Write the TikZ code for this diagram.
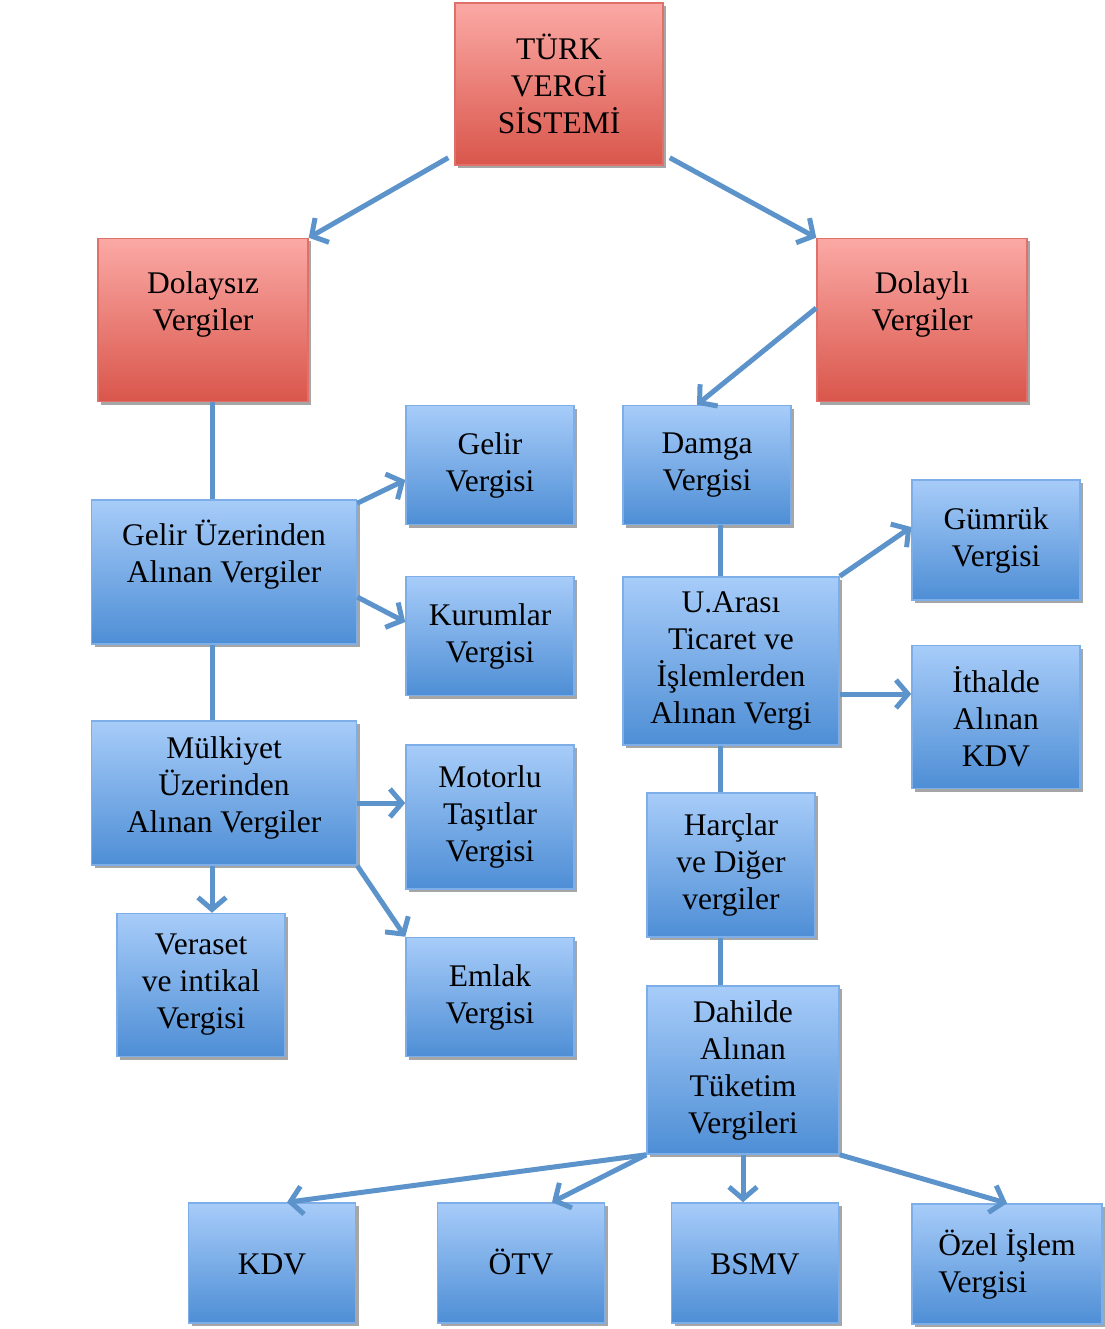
\documentclass[tikz,border=0pt]{standalone}
\usepackage{fontspec}
\setmainfont{Liberation Serif}
\usepackage{xcolor}
\usetikzlibrary{arrows.meta, shadows}

\definecolor{boxtop}{HTML}{A7CCF9}
\definecolor{boxbot}{HTML}{4E8ED5}
\definecolor{boxline}{HTML}{7DAEE8}
\definecolor{redtop}{HTML}{FBA9A5}
\definecolor{redbot}{HTML}{D9564B}
\definecolor{redline}{HTML}{E0716A}
\definecolor{linkblue}{HTML}{5C93CA}

\begin{document}
\begin{tikzpicture}[x=1pt, y=-1pt,
  box/.style={draw=boxline, line width=1.5pt, top color=boxtop, bottom color=boxbot,
    inner sep=0pt, align=center, font=\fontsize{31.5}{37}\selectfont,
    drop shadow={shadow xshift=3pt, shadow yshift=-3pt, opacity=0.35, fill=black}},
  redbox/.style={box, draw=redline, top color=redtop, bottom color=redbot},
  sz/.style 2 args={minimum width=#1pt, minimum height=#2pt},
  lift/.style={text depth=#1pt},
  oneline/.style={text height=22pt, text depth=0pt},
  con/.style={draw=linkblue, line width=5pt},
  arr/.style={con, -{Straight Barb[length=12pt, width=28pt]}}]
\useasboundingbox (0,0) rectangle (1104,1329);

% Top level
\node[redbox, sz={208}{162}] (turk) at (559,84) {TÜRK\\VERGİ\\SİSTEMİ};
\node[redbox, sz={210}{163}, lift=37] (dolaysiz) at (203,320) {Dolaysız\\Vergiler};
\node[redbox, sz={210}{163}, lift=37] (dolayli) at (922,320) {Dolaylı\\Vergiler};

% Direct taxes
\node[box, sz={168}{119}] (gelirv) at (490,465) {Gelir\\Vergisi};
\node[box, sz={265}{144}, lift=42] (gelirUz) at (224,572) {Gelir Üzerinden\\Alınan Vergiler};
\node[box, sz={168}{119}] (kurumlar) at (490,636) {Kurumlar\\Vergisi};
\node[box, sz={265}{144}, lift=17] (mulkiyet) at (224,793) {Mülkiyet\\Üzerinden\\Alınan Vergiler};
\node[box, sz={168}{144}] (motorlu) at (490,817) {Motorlu\\Taşıtlar\\Vergisi};
\node[box, sz={168}{143}] (veraset) at (201,985) {Veraset\\ve intikal\\Vergisi};
\node[box, sz={168}{119}] (emlak) at (490,997) {Emlak\\Vergisi};

% Indirect taxes
\node[box, sz={168}{119}] (damga) at (707,465) {Damga\\Vergisi};
\node[box, sz={168}{120}] (gumruk) at (996,540) {Gümrük\\Vergisi};
\node[box, sz={216}{168}] (uarasi) at (731,661) {U.Arası\\Ticaret ve\\İşlemlerden\\Alınan Vergi};
\node[box, sz={168}{143}] (ithalde) at (996,717) {İthalde\\Alınan\\KDV};
\node[box, sz={168}{144}] (harclar) at (731,865) {Harçlar\\ve Diğer\\vergiler};
\node[box, sz={192}{168}] (dahilde) at (743,1070) {Dahilde\\Alınan\\Tüketim\\Vergileri};

% Bottom row
\node[box, sz={167}{120}, oneline] (kdv) at (272,1263) {KDV};
\node[box, sz={167}{120}, oneline] (otv) at (521,1263) {ÖTV};
\node[box, sz={167}{120}, oneline] (bsmv) at (755,1263) {BSMV};
\node[box, sz={190}{120}, align=left] (ozel) at (1007,1264) {Özel İşlem\\Vergisi};

% Links
\draw[arr] ([shift={(-6pt,8pt)}]turk.south west) -- (dolaysiz.north east);
\draw[arr] ([shift={(6pt,8pt)}]turk.south east) -- (dolayli.north west);
\draw[arr] ([yshift=12pt]dolayli.west) -- ([xshift=-10pt]damga.north);

\draw[con] ([xshift=9pt]dolaysiz.south) -- ([xshift=-12pt]gelirUz.north);
\draw[con] ([xshift=-12pt]gelirUz.south) -- ([xshift=-12pt]mulkiyet.north);
\draw[arr] ([xshift=-12pt]mulkiyet.south) -- ([xshift=11pt]veraset.north);
\draw[arr] ([yshift=-4pt]gelirUz.north east) -- ([yshift=-15pt]gelirv.west);
\draw[arr] ([yshift=-25pt]gelirUz.east) -- ([yshift=14pt]kurumlar.west);
\draw[arr] ([yshift=-10pt]mulkiyet.east) -- ([yshift=14pt]motorlu.west);
\draw[arr] (mulkiyet.south east) -- (emlak.north west);

\draw[con] ([xshift=13pt]damga.south) -- ([xshift=-11pt]uarasi.north);
\draw[arr] (uarasi.north east) -- ([yshift=13pt]gumruk.west);
\draw[arr] ([yshift=-33pt]uarasi.east) -- ([yshift=23pt]ithalde.west);
\draw[con] ([xshift=-11pt]uarasi.south) -- ([xshift=-11pt]harclar.north);
\draw[con] ([xshift=-11pt]harclar.south) -- ([xshift=-23pt]dahilde.north);

\draw[arr] (dahilde.south west) -- ([xshift=15pt]kdv.north);
\draw[arr] (dahilde.south west) -- ([xshift=31pt]otv.north);
\draw[arr] (dahilde.south) -- ([xshift=-12pt]bsmv.north);
\draw[arr] (dahilde.south east) -- (ozel.north);
\end{tikzpicture}
\end{document}
